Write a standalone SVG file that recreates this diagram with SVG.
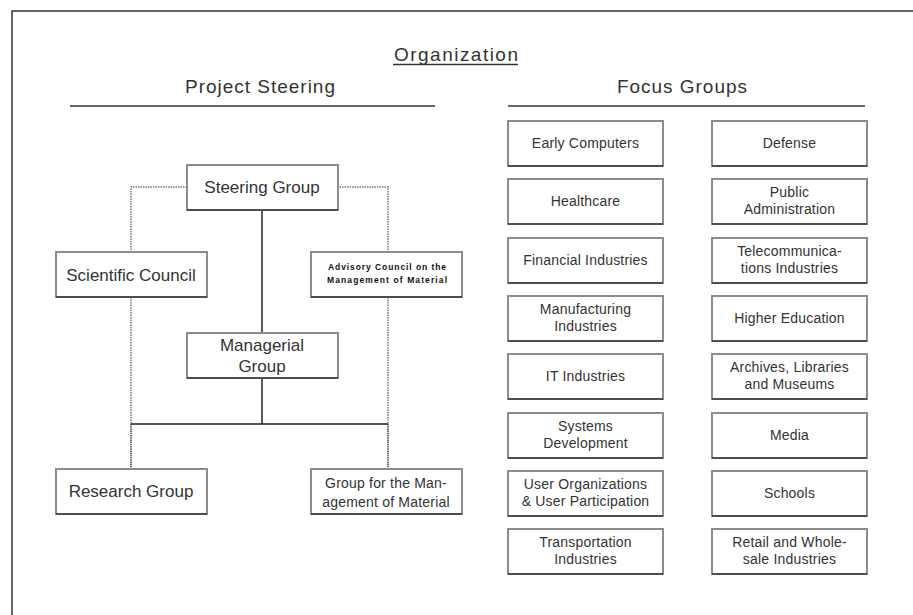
<svg xmlns="http://www.w3.org/2000/svg" xmlns:xlink="http://www.w3.org/1999/xlink" width="913" height="615" viewBox="0 0 913 615">
  <style>
    text { font-family: "Liberation Sans", Arial, sans-serif; fill: #333; text-anchor: middle; }
    .head { font-size: 19px; }
    .org { font-size: 17px; }
    .fg { font-size: 14px; letter-spacing: 0.2px; }
    .adv { font-size: 8.5px; font-weight: bold; fill: #111; }
    .frame { stroke: #333; stroke-width: 1.5; fill: none; }
    .box { fill: #fff; stroke: #8c8c8c; stroke-width: 2; }
    .shade { stroke: #3a3a3a; stroke-width: 1.5; fill: none; }
    .solid { stroke: #222; stroke-width: 1.5; fill: none; }
    .dotted { stroke: #777; stroke-width: 1.5; fill: none; stroke-dasharray: 1.5 1; }
    .dense { stroke: #444; stroke-width: 1.5; fill: none; stroke-dasharray: 1.5 0.7; }
  </style>
  <defs>
    <!-- box outlines: grey frame with a darker lower edge -->
    <g id="nbox">
      <rect class="box" x="0" y="0" width="151" height="45"/>
      <path class="shade" d="M0,45 H151"/>
    </g>
    <g id="fbox">
      <rect class="box" x="0" y="0" width="155" height="45"/>
      <path class="shade" d="M0,45 H155"/>
    </g>
  </defs>

  <rect x="0" y="0" width="913" height="615" fill="#fff"/>

  <!-- page frame -->
  <path class="frame" d="M12,615 V11 H913"/>

  <!-- headings -->
  <g id="headings">
    <text class="head" x="456" y="61" textLength="124">Organization</text>
    <path class="frame" d="M393,64.5 H518" stroke-width="1"/>
    <text class="head" x="260" y="93" textLength="150">Project Steering</text>
    <path class="frame" d="M70,106 H435"/>
    <text class="head" x="682" y="93" textLength="130">Focus Groups</text>
    <path class="frame" d="M508,106 H865"/>
  </g>

  <!-- connectors -->
  <g id="connectors">
    <path class="dotted" d="M187,187 H131 V252"/>
    <path class="dotted" d="M131,297 V424"/>
    <path class="dotted" d="M337,187 H388 V252"/>
    <path class="dotted" d="M388,297 V424"/>
    <path class="solid" d="M262,211 V333"/>
    <path class="solid" d="M262,379 V424"/>
    <path class="solid" d="M131,424 H388"/>
    <path class="dense" d="M131,424 V469"/>
    <path class="dense" d="M388,424 V469"/>
  </g>

  <!-- project steering nodes -->
  <g id="steering-group">
    <use xlink:href="#nbox" x="187" y="165"/>
    <text class="org" x="262" y="193">Steering Group</text>
  </g>
  <g id="scientific-council">
    <use xlink:href="#nbox" x="56" y="252"/>
    <text class="org" x="131" y="281">Scientific Council</text>
  </g>
  <g id="advisory-council">
    <use xlink:href="#nbox" x="311" y="252"/>
    <text class="adv" x="387" y="270" textLength="118">Advisory Council on the</text>
    <text class="adv" x="387" y="283" textLength="120">Management of Material</text>
  </g>
  <g id="managerial-group">
    <use xlink:href="#nbox" x="187" y="333"/>
    <text class="org" x="262" y="351">Managerial</text>
    <text class="org" x="262" y="372">Group</text>
  </g>
  <g id="research-group">
    <use xlink:href="#nbox" x="56" y="469"/>
    <text class="org" x="131" y="497">Research Group</text>
  </g>
  <g id="material-group">
    <use xlink:href="#nbox" x="311" y="469"/>
    <text class="fg" x="386" y="488">Group for the Man-</text>
    <text class="fg" x="386" y="507">agement of Material</text>
  </g>

  <!-- focus groups, left column -->
  <g id="early-computers">
    <use xlink:href="#fbox" x="508" y="121"/>
    <text class="fg" x="585.5" y="148">Early Computers</text>
  </g>
  <g id="healthcare">
    <use xlink:href="#fbox" x="508" y="179"/>
    <text class="fg" x="585.5" y="206">Healthcare</text>
  </g>
  <g id="financial-industries">
    <use xlink:href="#fbox" x="508" y="238"/>
    <text class="fg" x="585.5" y="265">Financial Industries</text>
  </g>
  <g id="manufacturing-industries">
    <use xlink:href="#fbox" x="508" y="296"/>
    <text class="fg" x="585.5" y="314">Manufacturing</text>
    <text class="fg" x="585.5" y="331">Industries</text>
  </g>
  <g id="it-industries">
    <use xlink:href="#fbox" x="508" y="354"/>
    <text class="fg" x="585.5" y="381">IT Industries</text>
  </g>
  <g id="systems-development">
    <use xlink:href="#fbox" x="508" y="413"/>
    <text class="fg" x="585.5" y="431">Systems</text>
    <text class="fg" x="585.5" y="448">Development</text>
  </g>
  <g id="user-organizations">
    <use xlink:href="#fbox" x="508" y="471"/>
    <text class="fg" x="585.5" y="489">User Organizations</text>
    <text class="fg" x="585.5" y="506">&amp; User Participation</text>
  </g>
  <g id="transportation-industries">
    <use xlink:href="#fbox" x="508" y="529"/>
    <text class="fg" x="585.5" y="547">Transportation</text>
    <text class="fg" x="585.5" y="564">Industries</text>
  </g>

  <!-- focus groups, right column -->
  <g id="defense">
    <use xlink:href="#fbox" x="712" y="121"/>
    <text class="fg" x="789.5" y="148">Defense</text>
  </g>
  <g id="public-administration">
    <use xlink:href="#fbox" x="712" y="179"/>
    <text class="fg" x="789.5" y="197">Public</text>
    <text class="fg" x="789.5" y="214">Administration</text>
  </g>
  <g id="telecommunications">
    <use xlink:href="#fbox" x="712" y="238"/>
    <text class="fg" x="789.5" y="256">Telecommunica-</text>
    <text class="fg" x="789.5" y="273">tions Industries</text>
  </g>
  <g id="higher-education">
    <use xlink:href="#fbox" x="712" y="296"/>
    <text class="fg" x="789.5" y="323">Higher Education</text>
  </g>
  <g id="archives-libraries-museums">
    <use xlink:href="#fbox" x="712" y="354"/>
    <text class="fg" x="789.5" y="372">Archives, Libraries</text>
    <text class="fg" x="789.5" y="389">and Museums</text>
  </g>
  <g id="media">
    <use xlink:href="#fbox" x="712" y="413"/>
    <text class="fg" x="789.5" y="440">Media</text>
  </g>
  <g id="schools">
    <use xlink:href="#fbox" x="712" y="471"/>
    <text class="fg" x="789.5" y="498">Schools</text>
  </g>
  <g id="retail-wholesale">
    <use xlink:href="#fbox" x="712" y="529"/>
    <text class="fg" x="789.5" y="547">Retail and Whole-</text>
    <text class="fg" x="789.5" y="564">sale Industries</text>
  </g>
</svg>
